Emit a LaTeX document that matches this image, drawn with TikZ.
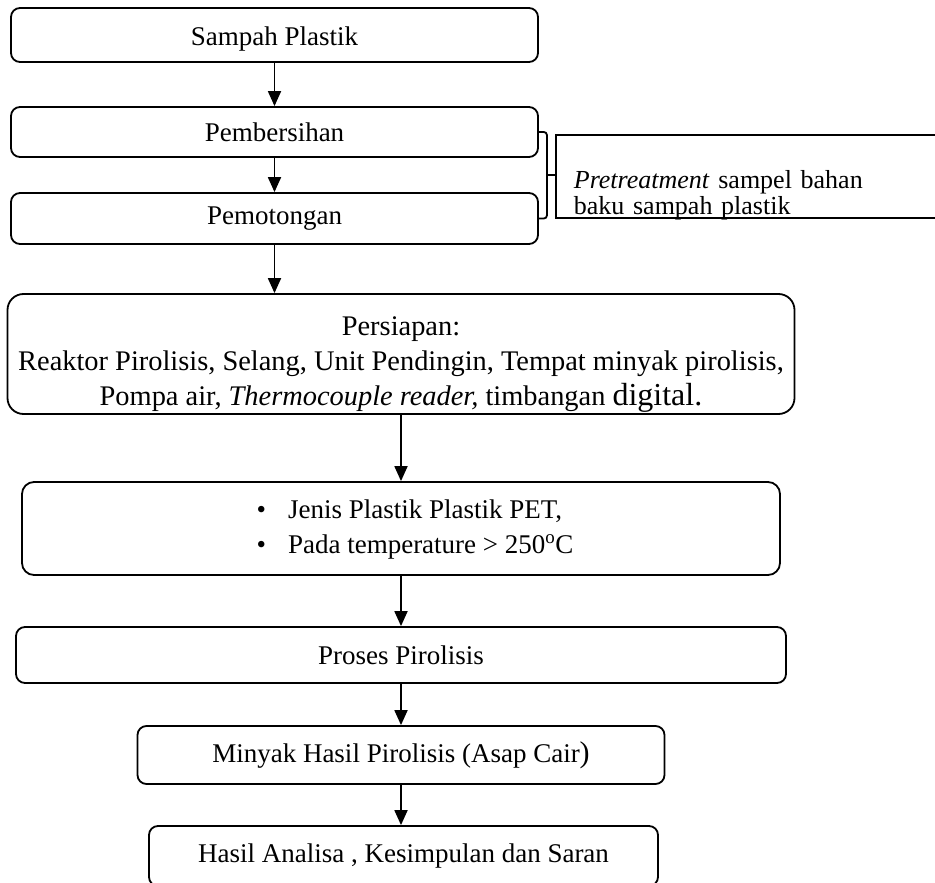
\documentclass[tikz,border=0pt]{standalone}
\usepackage{fontspec}
\setmainfont{Liberation Serif}
\usetikzlibrary{arrows.meta, calc}

\tikzset{
  kotak/.style={draw, line width=1.8pt, rounded corners=9pt, align=center, inner sep=0pt},
  panah/.style={line width=1.8pt, -{Triangle[length=15pt,width=13pt]}},
  kurung/.style={line width=1.8pt, rounded corners=3pt},
}

\begin{document}
\begin{tikzpicture}[x=1pt, y=-1pt, font=\fontsize{27}{35}\selectfont]
            \useasboundingbox (0,0) rectangle (935,883);
            \clip (0,0) rectangle (935,883);

            % alur utama
            \node[kotak, minimum width=527pt, minimum height=54pt, text height=26pt] (sampah) at (274.5,35) {Sampah Plastik};
            \node[kotak, minimum width=527pt, minimum height=50pt] (pembersihan) at (274.5,132) {Pembersihan};
            \node[kotak, minimum width=527pt, minimum height=51pt] (pemotongan) at (274.5,218.5) {Pemotongan};
            \node[kotak, rounded corners=16pt, minimum width=787pt, minimum height=120pt,
                  font=\fontsize{28.4}{35}\selectfont] (persiapan) at (401,354)
                {\raisebox{-51pt}[0pt][0pt]{\begin{tabular}[b]{@{}c@{}}
                 Persiapan:\\
                 Reaktor Pirolisis, Selang, Unit Pendingin, Tempat minyak pirolisis,\\
                 Pompa air, \textit{Thermocouple reader,} timbangan {\fontsize{32}{35}\selectfont digital.}
                 \end{tabular}}};
            \node[kotak, rounded corners=12pt, minimum width=758pt, minimum height=93pt] (jenis) at (401,528.5)
                {\hspace*{28pt}\begin{tabular}{@{}l@{}}
                 \textbullet\hspace{22pt}Jenis Plastik Plastik PET,\\
                 \textbullet\hspace{22pt}Pada temperature > 250\textsuperscript{o}C
                 \end{tabular}};
            \node[kotak, minimum width=770pt, minimum height=56pt] (proses) at (401,655) {Proses Pirolisis};
            \node[kotak, minimum width=527pt, minimum height=58pt] (minyak) at (401,755)
                {Minyak Hasil Pirolisis (Asap Cair{\fontsize{30}{35}\selectfont )}};
            \node[kotak, minimum width=509pt, minimum height=60pt] (hasil) at (403.5,856) {Hasil Analisa , Kesimpulan dan Saran};

            % keterangan pretreatment
            \node[draw, line width=1.8pt, anchor=west, minimum height=83pt, text width=384pt, align=left,
                  inner xsep=18pt, inner ysep=0pt, font=\fontsize{26}{26}\selectfont] (pretreatment) at (555,176.5)
                {\raisebox{-37.5pt}[0pt][0pt]{\begin{tabular}[b]{@{}l@{}}
                 \textit{Pretreatment} sampel bahan\\ baku sampah plastik
                 \end{tabular}}};

            \draw[panah] (sampah) -- (pembersihan);
            \draw[panah] (pembersihan) -- (pemotongan);
            \draw[panah] (pemotongan.south) -- (pemotongan.south |- persiapan.north);
            \draw[panah] (persiapan) -- (jenis);
            \draw[panah] (jenis) -- (proses);
            \draw[panah] (proses) -- (minyak);
            \draw[panah] (minyak.south) -- (minyak.south |- hasil.north);

            % kurung
            \draw[kurung] (pembersihan.east) -- ++(8,0) |- (pemotongan.east);
            \coordinate (tengah) at ($(pembersihan.east)!0.5!(pemotongan.east)+(8,0)$);
            \draw[kurung] (tengah) -- (tengah -| pretreatment.west);

        \end{tikzpicture}
\end{document}
